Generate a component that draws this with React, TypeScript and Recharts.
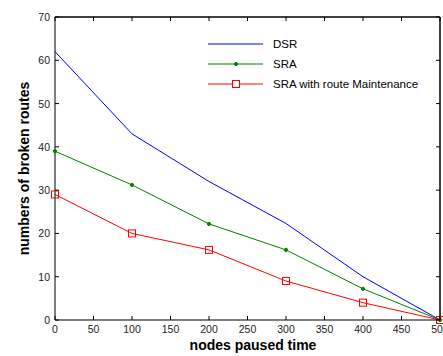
import React from 'react';
import { LineChart, Line, XAxis, YAxis, Legend, ReferenceLine } from 'recharts';

document.body.style.margin = '0';

const FONT = '"Liberation Sans", Arial, Helvetica, sans-serif';

const pausedTime = [0, 100, 200, 300, 400, 500];
const dsr = [62, 43, 32, 22.3, 10, 0];
const sra = [39, 31.2, 22.2, 16.2, 7.2, 0];
const sraMaintenance = [29, 20, 16.2, 9, 4, 0];

const xTicks = [0, 50, 100, 150, 200, 250, 300, 350, 400, 450, 500];
const yTicks = [0, 10, 20, 30, 40, 50, 60, 70];

const data = pausedTime.map((t, i) => ({
  t,
  dsr: dsr[i],
  sra: sra[i],
  sraM: sraMaintenance[i],
}));

const series = [
  { key: 'dsr', name: 'DSR', color: '#0000ff', marker: 'none' },
  { key: 'sra', name: 'SRA', color: '#008000', marker: 'dot' },
  { key: 'sraM', name: 'SRA with route Maintenance', color: '#ff0000', marker: 'square' },
];

const TICK_LEN = 4;

const BottomTick = (props: any) => {
  const { x, y, payload } = props;
  return (
    <g>
      <line x1={x} x2={x} y1={y} y2={y - TICK_LEN} stroke="#000" />
      <text x={x} y={y + 13} textAnchor="middle" fontSize={10.5} fontFamily={FONT} fill="#222">
        {payload.value}
      </text>
    </g>
  );
};

const TopTick = (props: any) => {
  const { x, y } = props;
  return <line x1={x} x2={x} y1={y} y2={y + TICK_LEN} stroke="#000" />;
};

const LeftTick = (props: any) => {
  const { x, y, payload } = props;
  return (
    <g>
      <line x1={x} x2={x + TICK_LEN} y1={y} y2={y} stroke="#000" />
      <text x={x - 5} y={y + 4} textAnchor="end" fontSize={10.5} fontFamily={FONT} fill="#222">
        {payload.value}
      </text>
    </g>
  );
};

const RightTick = (props: any) => {
  const { x, y } = props;
  return <line x1={x} x2={x - TICK_LEN} y1={y} y2={y} stroke="#000" />;
};

const SquareDot = (props: any) => {
  const { cx, cy, index } = props;
  if (cx == null || cy == null) return <g key={index} />;
  return (
    <rect key={index} x={cx - 3.5} y={cy - 3.5} width={7} height={7} fill="none" stroke="#ff0000" strokeWidth={1} />
  );
};

const SmallDot = (props: any) => {
  const { cx, cy, index } = props;
  if (cx == null || cy == null) return <g key={index} />;
  return <circle key={index} cx={cx} cy={cy} r={1.6} fill="#008000" stroke="#008000" />;
};

const LegendContent = () => (
  <div style={{ fontFamily: FONT, fontSize: 11.5, color: '#000', background: '#fff' }}>
    {series.map((s) => (
      <div key={s.key} style={{ display: 'flex', alignItems: 'center', height: 20 }}>
        <svg width={56} height={20} style={{ display: 'block' }}>
          <line x1={0} x2={55} y1={10} y2={10} stroke={s.color} />
          {s.marker === 'dot' && <circle cx={28} cy={10} r={1.6} fill={s.color} stroke={s.color} />}
          {s.marker === 'square' && (
            <rect x={24.5} y={6.5} width={7} height={7} fill="#fff" stroke={s.color} />
          )}
        </svg>
        <span style={{ marginLeft: 9, whiteSpace: 'nowrap' }}>{s.name}</span>
      </div>
    ))}
  </div>
);

const YLabel = (props: any) => {
  const vb = props.viewBox || { x: 0, y: 17, width: 55, height: 303 };
  const cx = vb.x + 28.5;
  const cy = vb.y + vb.height / 2;
  return (
    <text
      x={cx}
      y={cy}
      transform={`rotate(-90, ${cx}, ${cy})`}
      textAnchor="middle"
      fontSize={14}
      fontWeight="bold"
      fontFamily={FONT}
      fill="#000"
    >
      numbers of broken routes
    </text>
  );
};

const XLabel = (props: any) => {
  const vb = props.viewBox || { x: 55, y: 320, width: 385, height: 36 };
  const cx = vb.x + vb.width / 2 + 5.5;
  const cy = vb.y + 30;
  return (
    <text x={cx} y={cy} textAnchor="middle" fontSize={14} fontWeight="bold" fontFamily={FONT} fill="#000">
      nodes paused time
    </text>
  );
};

export default function App() {
  return (
    <div style={{ width: 443, height: 356, background: '#fff', position: 'relative' }}>
      <LineChart width={443} height={356} data={data} margin={{ top: 16, right: 2, bottom: 0, left: 0 }}>
        <XAxis
          xAxisId="b"
          dataKey="t"
          type="number"
          domain={[0, 500]}
          ticks={xTicks}
          interval={0}
          height={36}
          tickSize={0}
          tickMargin={0}
          tick={<BottomTick />}
          axisLine={{ stroke: '#000' }}
          label={<XLabel />}
        />
        <XAxis
          xAxisId="t"
          orientation="top"
          dataKey="t"
          type="number"
          domain={[0, 500]}
          ticks={xTicks}
          interval={0}
          height={1}
          tickSize={0}
          tickMargin={0}
          tick={<TopTick />}
          axisLine={{ stroke: '#000' }}
        />
        <YAxis
          yAxisId="l"
          type="number"
          domain={[0, 70]}
          ticks={yTicks}
          interval={0}
          width={55}
          tickSize={0}
          tickMargin={0}
          tick={<LeftTick />}
          axisLine={{ stroke: '#000' }}
          label={<YLabel />}
        />
        <YAxis
          yAxisId="r"
          orientation="right"
          type="number"
          domain={[0, 70]}
          ticks={yTicks}
          interval={0}
          width={1}
          tickSize={0}
          tickMargin={0}
          tick={<RightTick />}
          axisLine={{ stroke: '#000' }}
        />
        {/* frame: top and right edges of the box */}
        <ReferenceLine xAxisId="b" yAxisId="l" y={70} stroke="#000" />
        <ReferenceLine xAxisId="b" yAxisId="l" x={500} stroke="#000" />
        <Legend
          layout="vertical"
          align="center"
          verticalAlign="middle"
          content={<LegendContent />}
          wrapperStyle={{ left: 208, top: 34, width: 'auto', height: 'auto' }}
        />
        <Line
          xAxisId="t"
          yAxisId="r"
          dataKey="dsr"
          legendType="none"
          stroke="none"
          dot={false}
          activeDot={false}
          isAnimationActive={false}
        />
        <Line
          xAxisId="b"
          yAxisId="l"
          dataKey="dsr"
          name="DSR"
          stroke="#0000ff"
          strokeWidth={1}
          dot={false}
          activeDot={false}
          isAnimationActive={false}
        />
        <Line
          xAxisId="b"
          yAxisId="l"
          dataKey="sra"
          name="SRA"
          stroke="#008000"
          strokeWidth={1}
          dot={<SmallDot />}
          activeDot={false}
          isAnimationActive={false}
        />
        <Line
          xAxisId="b"
          yAxisId="l"
          dataKey="sraM"
          name="SRA with route Maintenance"
          stroke="#ff0000"
          strokeWidth={1}
          dot={<SquareDot />}
          activeDot={false}
          isAnimationActive={false}
        />
      </LineChart>
    </div>
  );
}
